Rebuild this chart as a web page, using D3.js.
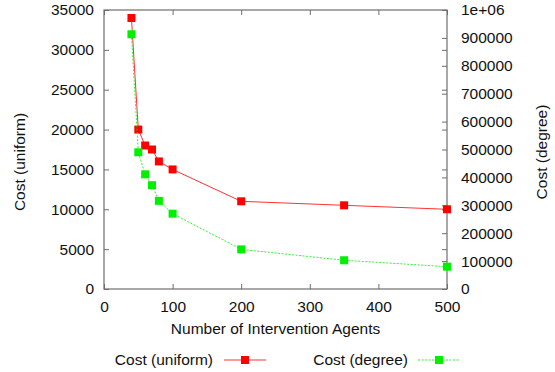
<!DOCTYPE html>
<html>
<head>
<meta charset="utf-8">
<script src="https://cdn.jsdelivr.net/npm/d3@7"></script>
<style>
  html, body { margin: 0; padding: 0; background: #fff; }
  svg { display: block; font-family: "Liberation Sans", Arial, Helvetica, sans-serif; }
</style>
</head>
<body>
<svg id="chart" width="555" height="372"></svg>
<script>
// Number of intervention agents (shared x values)
const agents = [40, 50, 60, 70, 80, 100, 200, 350, 500];
// Cost under the uniform scheme (left axis)
const costUniform = [34000, 20000, 18000, 17500, 16000, 15000, 11000, 10500, 10000];
// Cost under the degree scheme (right axis)
const costDegree = [913000, 490000, 411000, 372000, 316000, 270000, 142000, 103000, 80000];

const xTicks = [0, 100, 200, 300, 400, 500];
const yTicks = [0, 5000, 10000, 15000, 20000, 25000, 30000, 35000];
const y2Ticks = [0, 100000, 200000, 300000, 400000, 500000, 600000, 700000, 800000, 900000, 1000000];
const seriesNames = ["Cost (uniform)", "Cost (degree)"];

const svg = d3.select("#chart");
const plotL = 104, plotR = 447, plotT = 10, plotB = 289;
const fs = 15.5;
const borderColor = "#6e6e6e";

const x = d3.scaleLinear().domain([0, 500]).range([plotL, plotR]);
const y = d3.scaleLinear().domain([0, 35000]).range([plotB, plotT]);
const y2 = d3.scaleLinear().domain([0, 1000000]).range([plotB, plotT]);

function styleAxis(g) {
  g.select(".domain").remove();
  g.selectAll(".tick line").attr("stroke", borderColor).attr("stroke-width", 1);
  g.selectAll(".tick text").attr("fill", "#111").style("font-size", fs + "px");
}

// Bottom axis with inward ticks
svg.append("g").attr("transform", `translate(0,${plotB})`)
  .call(d3.axisBottom(x).tickValues(xTicks).tickSize(-5).tickPadding(12).tickFormat(d3.format("d")))
  .call(styleAxis);
// Mirrored ticks on the top border
svg.append("g").attr("transform", `translate(0,${plotT})`)
  .call(d3.axisTop(x).tickValues(xTicks).tickSize(-5).tickFormat(""))
  .call(styleAxis);
// Left axis
svg.append("g").attr("transform", `translate(${plotL},0)`)
  .call(d3.axisLeft(y).tickValues(yTicks).tickSize(-5).tickPadding(10).tickFormat(d3.format("d")))
  .call(styleAxis);
// Left ticks mirrored on the right border
svg.append("g").attr("transform", `translate(${plotR},0)`)
  .call(d3.axisRight(y).tickValues(yTicks).tickSize(-5).tickFormat(""))
  .call(styleAxis);
// Right axis for the degree series
const y2Format = d => d >= 1000000 ? "1e+06" : d3.format("d")(d);
svg.append("g").attr("transform", `translate(${plotR},0)`)
  .call(d3.axisRight(y2).tickValues(y2Ticks).tickSize(-5).tickPadding(14).tickFormat(y2Format))
  .call(styleAxis);

// Plot border
svg.append("rect")
  .attr("x", plotL).attr("y", plotT)
  .attr("width", plotR - plotL).attr("height", plotB - plotT)
  .attr("fill", "none").attr("stroke", borderColor).attr("stroke-width", 1.2);

// Axis titles
svg.append("text").attr("x", (plotL + plotR) / 2).attr("y", 334)
  .attr("text-anchor", "middle").attr("fill", "#111").style("font-size", fs + "px")
  .text("Number of Intervention Agents");
svg.append("text").attr("transform", "translate(25,162) rotate(-90)")
  .attr("text-anchor", "middle").attr("fill", "#111").style("font-size", fs + "px")
  .text(seriesNames[0]);
svg.append("text").attr("transform", "translate(547,152) rotate(-90)")
  .attr("text-anchor", "middle").attr("fill", "#111").style("font-size", fs + "px")
  .text(seriesNames[1]);

// Series
const series = [
  { name: seriesNames[0], values: costUniform, scale: y, color: "#ff0000", dash: null },
  { name: seriesNames[1], values: costDegree, scale: y2, color: "#00f000", dash: "2,1.5" }
];
const msize = 8;

series.forEach(s => {
  const pts = agents.map((a, i) => [x(a), s.scale(s.values[i])]);
  svg.append("path")
    .attr("d", d3.line()(pts))
    .attr("fill", "none").attr("stroke", s.color).attr("stroke-width", 1)
    .attr("stroke-opacity", 0.8)
    .attr("stroke-dasharray", s.dash);
  svg.append("g").selectAll("rect").data(pts).join("rect")
    .attr("x", d => d[0] - msize / 2).attr("y", d => d[1] - msize / 2)
    .attr("width", msize).attr("height", msize)
    .attr("fill", s.color);
});

// Legend
const legendY = 360;
const legendItems = [
  { textEnd: 213, lineStart: 224, lineEnd: 266 },
  { textEnd: 408, lineStart: 418, lineEnd: 460 }
];
series.forEach((s, i) => {
  const L = legendItems[i];
  svg.append("text").attr("x", L.textEnd).attr("y", legendY + 5)
    .attr("text-anchor", "end").attr("fill", "#111").style("font-size", fs + "px")
    .text(s.name);
  svg.append("line")
    .attr("x1", L.lineStart).attr("x2", L.lineEnd)
    .attr("y1", legendY).attr("y2", legendY)
    .attr("stroke", s.color).attr("stroke-width", 1).attr("stroke-opacity", 0.8)
    .attr("stroke-dasharray", s.dash);
  const mx = (L.lineStart + L.lineEnd) / 2;
  svg.append("rect")
    .attr("x", mx - msize / 2).attr("y", legendY - msize / 2)
    .attr("width", msize).attr("height", msize).attr("fill", s.color);
});
</script>
</body>
</html>
